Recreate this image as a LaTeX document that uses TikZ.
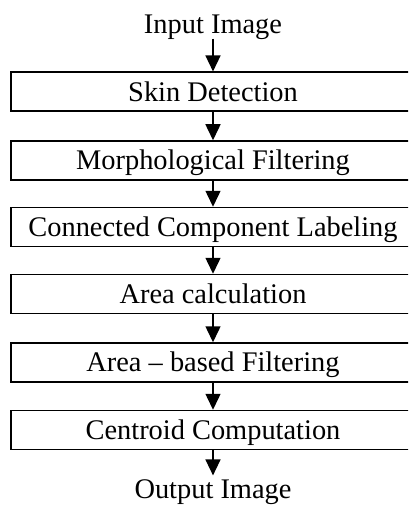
\documentclass[tikz,border=0pt]{standalone}
\usepackage{fontspec}
\setmainfont{Liberation Serif}
\usetikzlibrary{arrows.meta}
\begin{document}
\begin{tikzpicture}[x=1pt,y=-1pt,
  every node/.style={font=\fontsize{28.4}{30}\selectfont, text height=18.8pt, text depth=0pt},
  stepbox/.style={draw, line width=1.5pt, minimum width=404pt, minimum height=39pt, inner sep=0pt},
  term/.style={inner xsep=0pt},
  flow/.style={line width=1.5pt, -{Triangle[width=15pt,length=16pt]}}]
\clip (0,0) rectangle (408,505);
\fill[white] (0,0) rectangle (408,505);
\node[term, inner ysep=5pt] (in) at (213,24) {Input Image};
\node[stepbox] (b1) at (213,91.7) {Skin Detection};
\node[stepbox] (b2) at (213,160.5) {Morphological Filtering};
\node[stepbox] (b3) at (213,227) {Connected Component Labeling};
\node[stepbox] (b4) at (213,294) {Area calculation};
\node[stepbox] (b5) at (213,362.5) {Area -- based Filtering};
\node[stepbox] (b6) at (213,430) {Centroid Computation};
\node[term, inner ysep=4pt] (out) at (213,489) {Output Image};
\draw[flow] (in) -- (b1);
\draw[flow] (b1) -- (b2);
\draw[flow] (b2) -- (b3);
\draw[flow] (b3) -- (b4);
\draw[flow] (b4) -- (b5);
\draw[flow] (b5) -- (b6);
\draw[flow] (b6) -- (out);
\end{tikzpicture}
\end{document}
